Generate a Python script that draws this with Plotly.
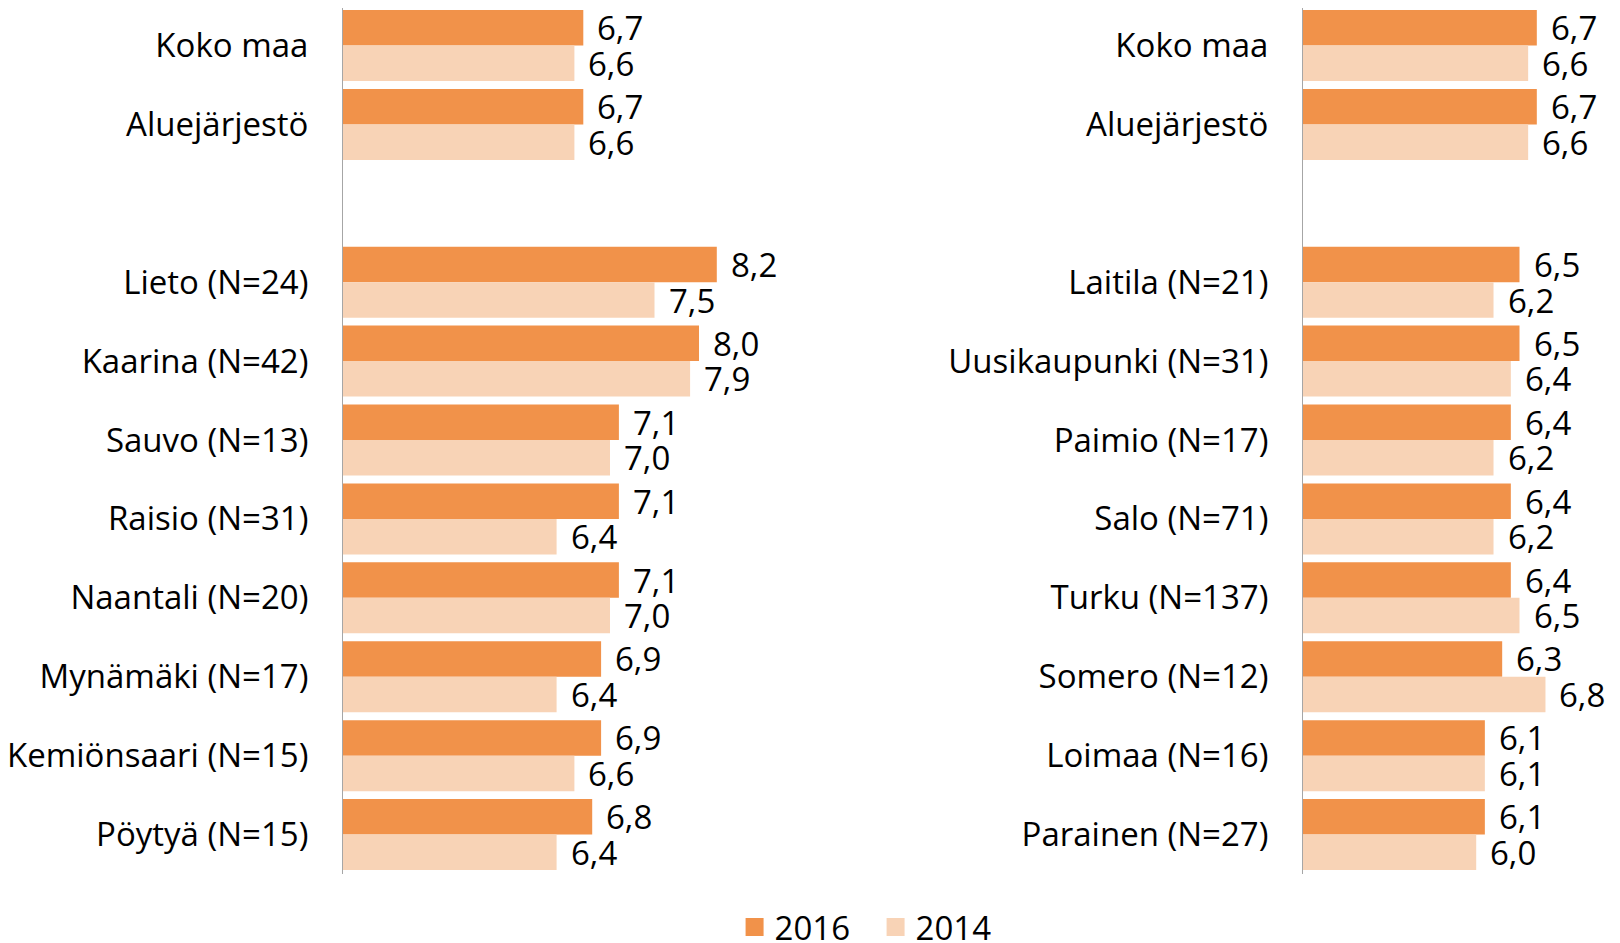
import plotly.graph_objects as go

# ---- data ----
left_categories = ["Koko maa", "Aluejärjestö", " ", "Lieto (N=24)", "Kaarina (N=42)", "Sauvo (N=13)",
                   "Raisio (N=31)", "Naantali (N=20)", "Mynämäki (N=17)", "Kemiönsaari (N=15)", "Pöytyä (N=15)"]
left_2016 = [6.7, 6.7, None, 8.2, 8.0, 7.1, 7.1, 7.1, 6.9, 6.9, 6.8]
left_2014 = [6.6, 6.6, None, 7.5, 7.9, 7.0, 6.4, 7.0, 6.4, 6.6, 6.4]

right_categories = ["Koko maa", "Aluejärjestö", "  ", "Laitila (N=21)", "Uusikaupunki (N=31)", "Paimio (N=17)",
                    "Salo (N=71)", "Turku (N=137)", "Somero (N=12)", "Loimaa (N=16)", "Parainen (N=27)"]
right_2016 = [6.7, 6.7, None, 6.5, 6.5, 6.4, 6.4, 6.4, 6.3, 6.1, 6.1]
right_2014 = [6.6, 6.6, None, 6.2, 6.4, 6.2, 6.2, 6.5, 6.8, 6.1, 6.0]

series_names = ["2016", "2014"]
colors = ["#F1924A", "#F8D3B6"]

FONT = "'Open Sans', Lato, sans-serif"
FS = 33
# page has an 8px body margin; figure is sized/offset to compensate
OFF = 8
W, H = 1612, 935

fig = go.Figure()

panels = [
    ("x", "y", left_categories, [left_2016, left_2014]),
    ("x2", "y2", right_categories, [right_2016, right_2014]),
]
for xa, ya, cats, series in panels:
    for name, vals, col in zip(series_names, series, colors):
        fig.add_trace(go.Bar(
            x=vals, y=cats, orientation="h", name=name,
            marker=dict(color=col, line=dict(width=0)),
            xaxis=xa, yaxis=ya, showlegend=False, hoverinfo="skip",
        ))

# legend entries
for name, col in zip(series_names, colors):
    fig.add_trace(go.Scatter(
        x=[None], y=[None], mode="markers", name=name,
        marker=dict(symbol="square", size=19, color=col, line=dict(width=2, color=col)),
        showlegend=True,
    ))

# value labels
bar_half = 17.8
annotations = []
for xa, ya, cats, series in panels:
    for si, vals in enumerate(series):
        shift = bar_half if si == 0 else -bar_half
        for c, v in zip(cats, vals):
            if v is None:
                continue
            annotations.append(dict(
                x=v, y=c, xref=xa, yref=ya, text=f"{v:.1f}".replace(".", ","),
                showarrow=False, xanchor="left", yanchor="middle",
                xshift=12, yshift=shift,
                font=dict(family=FONT, size=FS, color="black"),
            ))

left_px = 343 - OFF
left_scale = 89.0
right_px = 1303 - OFF
right_scale = 86.6
xmin = 4
left_max = 9.0
right_max = 7.5
plot_bottom = 874 - OFF
ncat = len(left_categories)
yrange = [ncat - 0.5, -0.475]

fig.update_layout(
    width=W, height=H,
    margin=dict(l=0, r=0, t=0, b=H - plot_bottom, autoexpand=False),
    plot_bgcolor="white", paper_bgcolor="white",
    barmode="group", bargap=0.1, bargroupgap=0,
    font=dict(family=FONT, size=FS, color="black"),
    annotations=annotations,
    xaxis=dict(domain=[left_px / W, (left_px + (left_max - xmin) * left_scale) / W],
               range=[xmin, left_max], visible=False, fixedrange=True),
    xaxis2=dict(domain=[right_px / W, (right_px + (right_max - xmin) * right_scale) / W],
                range=[xmin, right_max], visible=False, fixedrange=True),
    yaxis=dict(domain=[0, 1], anchor="x", type="category", range=yrange,
               showline=True, linecolor="#A6A6A6", linewidth=1, ticks="",
               ticklabelstandoff=27, showgrid=False,
               tickfont=dict(family=FONT, size=FS, color="black")),
    yaxis2=dict(domain=[0, 1], anchor="x2", type="category", range=yrange,
                showline=True, linecolor="#A6A6A6", linewidth=1, ticks="",
                ticklabelstandoff=27, showgrid=False,
                tickfont=dict(family=FONT, size=FS, color="black")),
    legend=dict(orientation="h", x=0.5382, xanchor="center",
                y=-(927 - 874) / plot_bottom, yanchor="middle",
                font=dict(family=FONT, size=FS, color="black"),
                itemwidth=30, tracegroupgap=0, bgcolor="rgba(0,0,0,0)",
                entrywidth=96, entrywidthmode="pixels"),
    showlegend=True,
)

fig.write_html("out.html")
